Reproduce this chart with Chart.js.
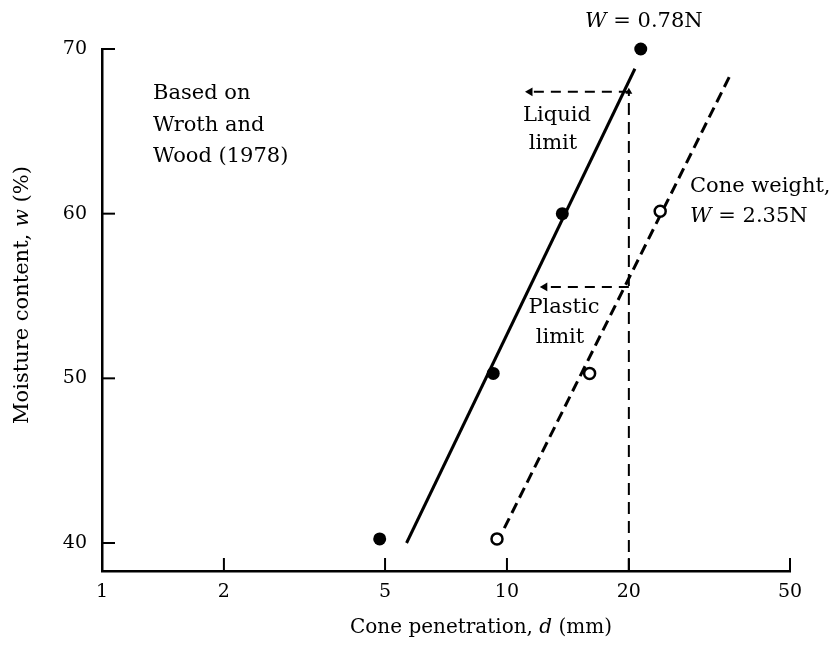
<!DOCTYPE html>
<html>
<head>
<meta charset="utf-8">
<script src="https://cdn.jsdelivr.net/npm/chart.js@4.4.1/dist/chart.umd.min.js"></script>
<style>
  html, body { margin: 0; padding: 0; background: #fff; }
</style>
</head>
<body>
<canvas id="chart" width="839" height="645"></canvas>
<script>
const xTicks = [1, 2, 5, 10, 20, 50];
const yTicks = [40, 50, 60, 70];

// cone weight W = 0.78N (filled points)
const lightD = [4.85, 9.25, 13.7, 21.4];
const lightW = [40.25, 50.3, 60.0, 70.0];
// cone weight W = 2.35N (open points)
const heavyD = [9.45, 16.0, 23.9];
const heavyW = [40.25, 50.3, 60.15];

// fitted lines, end points
const lightFitD = [5.65, 20.7];
const lightFitW = [40.0, 68.8];
const heavyFitD = [9.85, 35.9];
const heavyFitW = [40.9, 68.6];

// limits read at d = 20 mm
const limitD = 20;
const liquidLimit = 67.4;
const plasticLimit = 55.55;
const liquidArrowD = 11.4;
const plasticArrowD = 12.4;
const yMin = 38.3;

const FONT = 'DejaVu Serif';

const pts = (xs, ys) => xs.map((x, i) => ({ x: x, y: ys[i] }));

function drawRuns(ctx, runs, x, y, size, align) {
	let total = 0;
	const widths = runs.map(([t, it]) => {
		ctx.font = (it ? 'italic ' : '') + size + 'px "' + FONT + '"';
		const w = ctx.measureText(t).width;
		total += w;
		return w;
	});
	let cx = align === 'center' ? x - total / 2 : x;
	ctx.textAlign = 'left';
	runs.forEach(([t, it], i) => {
		ctx.font = (it ? 'italic ' : '') + size + 'px "' + FONT + '"';
		ctx.fillText(t, cx, y);
		cx += widths[i];
	});
}

const inwardTicks = {
	id: 'inwardTicks',
	afterDraw(chart) {
		const { ctx, chartArea, scales } = chart;
		ctx.save();
		ctx.strokeStyle = '#000';
		ctx.lineWidth = 2;
		yTicks.forEach(v => {
			const py = scales.y.getPixelForValue(v);
			ctx.beginPath();
			ctx.moveTo(chartArea.left, py);
			ctx.lineTo(chartArea.left + 13, py);
			ctx.stroke();
		});
		xTicks.slice(1).forEach(v => {
			const px = scales.x.getPixelForValue(v);
			ctx.beginPath();
			ctx.moveTo(px, chartArea.bottom);
			ctx.lineTo(px, chartArea.bottom - 13);
			ctx.stroke();
		});
		ctx.restore();
	}
};

const textLabels = {
	id: 'textLabels',
	afterDraw(chart) {
		const ctx = chart.ctx;
		ctx.save();
		ctx.fillStyle = '#000';
		ctx.textBaseline = 'alphabetic';

		drawRuns(ctx, [['Cone penetration, ', false], ['d', true], [' (mm)', false]], 481, 633, 20, 'center');

		ctx.save();
		ctx.translate(28, 295);
		ctx.rotate(-Math.PI / 2);
		drawRuns(ctx, [['Moisture content, ', false], ['w', true], [' (%)', false]], 0, 0, 21, 'center');
		ctx.restore();

		drawRuns(ctx, [['W', true], [' = 0.78N', false]], 585, 27, 21, 'left');
		drawRuns(ctx, [['Based on', false]], 153, 99, 21, 'left');
		drawRuns(ctx, [['Wroth and', false]], 153, 131, 21, 'left');
		drawRuns(ctx, [['Wood (1978)', false]], 153, 162, 21, 'left');
		drawRuns(ctx, [['Liquid', false]], 557, 121, 21, 'center');
		drawRuns(ctx, [['limit', false]], 553, 149, 21, 'center');
		drawRuns(ctx, [['Plastic', false]], 564, 313, 21, 'center');
		drawRuns(ctx, [['limit', false]], 560, 343, 21, 'center');
		drawRuns(ctx, [['Cone weight,', false]], 690, 192, 21, 'left');
		drawRuns(ctx, [['W', true], [' = 2.35N', false]], 690, 222, 21, 'left');
		ctx.restore();
	}
};

const ctx = document.getElementById('chart').getContext('2d');
const chart = new Chart(ctx, {
	type: 'scatter',
	data: {
		datasets: [
			{
				label: 'W = 0.78N',
				data: pts(lightD, lightW),
				showLine: false,
				pointRadius: 6.5,
				pointBackgroundColor: '#000',
				pointBorderColor: '#000',
				pointBorderWidth: 0,
				order: 0,
			},
			{
				label: 'W = 2.35N',
				data: pts(heavyD, heavyW),
				showLine: false,
				pointRadius: 5.5,
				pointBackgroundColor: '#fff',
				pointBorderColor: '#000',
				pointBorderWidth: 2.5,
				order: 0,
			},
			{
				label: 'fit 0.78N',
				data: pts(lightFitD, lightFitW),
				showLine: true,
				borderColor: '#000',
				borderWidth: 3,
				pointRadius: 0,
				order: 1,
			},
			{
				label: 'fit 2.35N',
				data: pts(heavyFitD, heavyFitW),
				showLine: true,
				borderColor: '#000',
				borderWidth: 3,
				borderDash: [11, 6],
				pointRadius: 0,
				order: 1,
			},
			{
				label: 'd = 20',
				data: [{ x: limitD, y: yMin }, { x: limitD, y: liquidLimit }],
				showLine: true,
				borderColor: '#000',
				borderWidth: 2,
				borderDash: [12, 7],
				pointStyle: 'triangle',
				pointRadius: [0, 4],
				pointBackgroundColor: '#000',
				pointBorderWidth: 0,
				order: 2,
			},
			{
				label: 'liquid limit',
				data: [{ x: limitD, y: liquidLimit }, { x: liquidArrowD, y: liquidLimit }],
				showLine: true,
				borderColor: '#000',
				borderWidth: 2,
				borderDash: [10, 7],
				pointStyle: 'triangle',
				pointRotation: -90,
				pointRadius: [0, 5],
				pointBackgroundColor: '#000',
				pointBorderWidth: 0,
				order: 2,
			},
			{
				label: 'plastic limit',
				data: [{ x: limitD, y: plasticLimit }, { x: plasticArrowD, y: plasticLimit }],
				showLine: true,
				borderColor: '#000',
				borderWidth: 2,
				borderDash: [10, 7],
				pointStyle: 'triangle',
				pointRotation: -90,
				pointRadius: [0, 5],
				pointBackgroundColor: '#000',
				pointBorderWidth: 0,
				order: 2,
			},
		],
	},
	options: {
		responsive: false,
		animation: false,
		devicePixelRatio: 1,
		clip: false,
		layout: { padding: { top: 49, right: 49, bottom: 0, left: 0 } },
		plugins: {
			legend: { display: false },
			tooltip: { enabled: false },
		},
		scales: {
			x: {
				type: 'logarithmic',
				min: 1,
				max: 50,
				afterBuildTicks: s => { s.ticks = xTicks.map(v => ({ value: v })); },
				afterFit: s => { s.height = 74; },
				grid: { display: false, drawTicks: false },
				border: { display: true, color: '#000', width: 2.5 },
				ticks: {
					color: '#000',
					font: { family: FONT, size: 19 },
					padding: 10,
					maxRotation: 0,
					autoSkip: false,
					callback: v => String(v),
				},
			},
			y: {
				type: 'linear',
				min: yMin,
				max: 70,
				afterBuildTicks: s => { s.ticks = yTicks.map(v => ({ value: v })); },
				afterFit: s => { s.width = 102; },
				grid: { display: false, drawTicks: false },
				border: { display: true, color: '#000', width: 2.5 },
				ticks: {
					color: '#000',
					font: { family: FONT, size: 19 },
					padding: 15,
					callback: v => String(v),
				},
			},
		},
	},
	plugins: [inwardTicks, textLabels],
});
</script>
</body>
</html>
